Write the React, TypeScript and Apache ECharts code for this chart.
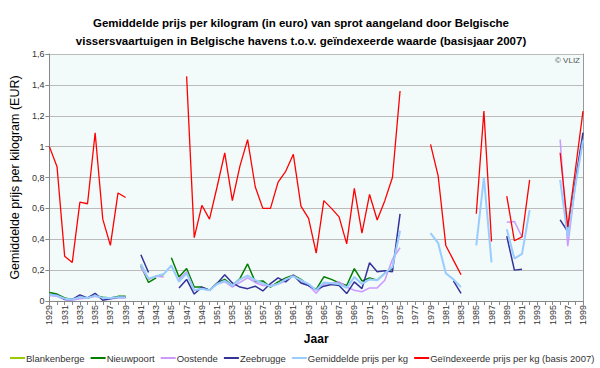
import React, { useEffect, useRef } from "react";
import * as echarts from "echarts";

const years: string[] = Array.from({ length: 71 }, (_, i) => String(1929 + i));

const blankenberge: (number | null)[] = [
  null, null, null, null, null, null, null, null, null, null, null, null,
  0.22, 0.14, 0.16, 0.17,
  null, null, null, null, null, null, null, null, null, null, null, null, null, null,
  null, null, null, null, null, null, null, null, null, null, null, null, null, null,
  null, null, null, null, null, null, null, null, null, null, null, null, null, null,
  null, null, null, null, null, null, null, null, null, null, null, null, null,
];

const nieuwpoort: (number | null)[] = [
  0.055, 0.045, 0.02, 0.01, 0.025, 0.02, 0.035, 0.025, 0.02, 0.03, 0.03,
  null,
  0.23, 0.12, 0.15, null,
  0.28, 0.155, 0.21, 0.09, 0.09, 0.07, 0.117, 0.14, 0.10, 0.146,
  0.24, 0.124, 0.13, 0.09, 0.124, 0.15, 0.167, 0.14, 0.10, 0.075,
  0.157, 0.14, 0.117, 0.10, 0.21, 0.13, 0.15, 0.135, 0.18, 0.21,
  null, null, null, null, null, null, null, null, null, null, null, null, null,
  null, null, null, null, null, null, null, null, null, null, null, null,
];

const oostende: (number | null)[] = [
  0.035, 0.03, 0.01, 0.005, 0.015, 0.02, 0.03, 0.02, 0.015, 0.02, 0.02,
  null,
  0.22, 0.14, 0.16, 0.155,
  null,
  0.14, 0.19, 0.07, 0.08, 0.07, 0.11, 0.125, 0.09, 0.12, 0.15,
  0.12, 0.10, 0.10, 0.11, 0.13, 0.17, 0.12, 0.10, 0.05, 0.11,
  0.113, 0.124, 0.09, 0.07, 0.06, 0.085, 0.085, 0.135, 0.27, 0.345,
  null, null, null, null, null, null, null, null, null, null, null, null, null,
  0.51, 0.515, 0.415,
  null, null, null, null,
  1.045, 0.355, 0.75, 1.05,
];

const zeebrugge: (number | null)[] = [
  0.04, 0.04, 0.01, 0.01, 0.04, 0.02, 0.05, 0.005, 0.015, 0.025, 0.025,
  null,
  0.30, 0.185,
  null, null, null,
  0.085, 0.14, 0.045, 0.09, 0.07, 0.113, 0.17, 0.117, 0.09, 0.08,
  0.096, 0.065, 0.113, 0.15, 0.124, 0.167, 0.117, 0.10, 0.072, 0.096,
  0.107, 0.10, 0.048, 0.124, 0.08, 0.248, 0.19, 0.196, 0.19, 0.565,
  null, null, null, null, null, null,
  0.13, 0.05,
  null, null, null, null, null,
  0.42, 0.20, 0.205,
  null, null, null, null,
  0.525, 0.45, 0.78, 1.09,
];

const gemiddelde: (number | null)[] = [
  0.04, 0.035, 0.015, 0.01, 0.025, 0.02, 0.035, 0.02, 0.02, 0.025, 0.025,
  null,
  0.24, 0.145, 0.16, 0.175, 0.23, 0.125, 0.18, 0.07, 0.08, 0.07,
  0.11, 0.13, 0.10, 0.14, 0.165, 0.135, 0.115, 0.095, 0.11, 0.14,
  0.16, 0.135, 0.11, 0.07, 0.12, 0.115, 0.11, 0.085, 0.155, 0.11,
  0.14, 0.135, 0.18, 0.22, 0.455,
  null, null, null,
  0.44, 0.375, 0.18, 0.14, 0.09,
  null,
  0.36, 0.80, 0.25,
  null,
  0.465, 0.275, 0.305, 0.59,
  null, null, null,
  0.785, 0.415, 0.75, 1.04,
];

const geindexeerd: (number | null)[] = [
  1.0, 0.87, 0.29, 0.25, 0.64, 0.63, 1.09, 0.53, 0.36, 0.70, 0.67,
  null, null, null, null, null, null, null,
  1.455, 0.41, 0.62, 0.53, 0.74, 0.96, 0.65, 0.875, 1.045, 0.74,
  0.60, 0.60, 0.77, 0.84, 0.95, 0.615, 0.535, 0.31, 0.65, 0.60,
  0.545, 0.37, 0.73, 0.44, 0.69, 0.525, 0.65, 0.80, 1.36,
  null, null, null,
  1.015, 0.81, 0.36, 0.265, 0.17,
  null,
  0.565, 1.23, 0.385,
  null,
  0.68, 0.39, 0.415, 0.785,
  null, null, null,
  0.96, 0.48, 0.85, 1.23,
];

const yTicks = [0, 0.2, 0.4, 0.6, 0.8, 1.0, 1.2, 1.4, 1.6];

const seriesDefs = [
  { name: "Blankenberge", data: blankenberge, color: "#99CC00", width: 1.5 },
  { name: "Nieuwpoort", data: nieuwpoort, color: "#008000", width: 1.5 },
  { name: "Oostende", data: oostende, color: "#CC99FF", width: 1.5 },
  { name: "Zeebrugge", data: zeebrugge, color: "#333399", width: 1.5 },
  { name: "Gemiddelde prijs per kg", data: gemiddelde, color: "#99CCFF", width: 2 },
  { name: "Geïndexeerde prijs per kg (basis 2007)", data: geindexeerd, color: "#FF0000", width: 1.3 },
];

const FONT = "Liberation Sans";

export default function App() {
  const ref = useRef<HTMLDivElement>(null);
  useEffect(() => {
    if (!ref.current) return;
    const chart = echarts.init(ref.current, undefined, { renderer: "svg" });
    chart.setOption({
      animation: false,
      backgroundColor: "#FFFFFF",
      textStyle: { fontFamily: FONT },
      title: {
        text: "Gemiddelde prijs per kilogram (in euro) van sprot aangeland door Belgische\nvissersvaartuigen in Belgische havens t.o.v. geïndexeerde waarde (basisjaar 2007)",
        left: 296,
        top: 9,
        textAlign: "center",
        textStyle: { fontFamily: FONT, fontSize: 11.5, fontWeight: "bold", color: "#000", lineHeight: 18 },
      },
      graphic: [
        {
          type: "text",
          right: 20,
          top: 56,
          style: { text: "© VLIZ", fontFamily: FONT, fontSize: 8, fill: "#555" },
        },
      ],
      legend: {
        bottom: 5,
        left: 10,
        right: 2,
        padding: 0,
        icon: "rect",
        itemWidth: 15,
        itemHeight: 2,
        itemGap: 6,
        textStyle: { fontFamily: FONT, fontSize: 9.5, color: "#333", padding: [0, 0, 0, -4] },
        data: seriesDefs.map((s) => s.name),
      },
      grid: { left: 44, right: 17, top: 54, bottom: 67, show: true, backgroundColor: "#F2FAFA", borderWidth: 0 },
      xAxis: {
        type: "category",
        data: years,
        boundaryGap: false,
        name: "Jaar",
        nameLocation: "middle",
        nameGap: 30,
        nameTextStyle: { fontFamily: FONT, fontSize: 12, fontWeight: "bold", color: "#000" },
        axisLine: { lineStyle: { color: "#888", width: 1 } },
        axisTick: { show: true, interval: 0, length: 4, lineStyle: { color: "#888" } },
        axisLabel: { interval: 1, rotate: 90, fontSize: 9, color: "#333", margin: 4, fontFamily: FONT },
        splitLine: { show: false },
      },
      yAxis: [
        {
          type: "value",
          min: 0,
          max: 1.6,
          interval: 0.2,
          name: "Gemiddelde prijs per kilogram (EUR)",
          nameLocation: "middle",
          nameGap: 21,
          nameTextStyle: { fontFamily: FONT, fontSize: 12.5, color: "#000" },
          axisLine: { show: true, lineStyle: { color: "#888" } },
          axisTick: { show: true, length: 4, lineStyle: { color: "#888" } },
          axisLabel: {
            fontSize: 9,
            color: "#333",
            margin: 5,
            fontFamily: FONT,
            formatter: (v: number) => {
              const t = yTicks.find((x) => Math.abs(x - v) < 1e-6);
              const val = t !== undefined ? t : v;
              return String(Math.round(val * 10) / 10).replace(".", ",");
            },
          },
          splitLine: { show: true, lineStyle: { color: "#BBBBBB", width: 1 } },
        },
        {
          type: "value",
          min: 0,
          max: 1.6,
          interval: 0.2,
          position: "right",
          axisLine: { show: true, lineStyle: { color: "#999" } },
          axisTick: { show: false },
          axisLabel: { show: false },
          splitLine: { show: false },
        },
      ],
      series: seriesDefs.map((s) => ({
        name: s.name,
        type: "line",
        data: s.data,
        yAxisIndex: 0,
        showSymbol: false,
        symbol: "none",
        connectNulls: false,
        color: s.color,
        lineStyle: { color: s.color, width: s.width },
      })),
    });
    return () => chart.dispose();
  }, []);
  return <div ref={ref} style={{ width: 600, height: 368, position: "absolute", left: 0, top: 0 }} />;
}
